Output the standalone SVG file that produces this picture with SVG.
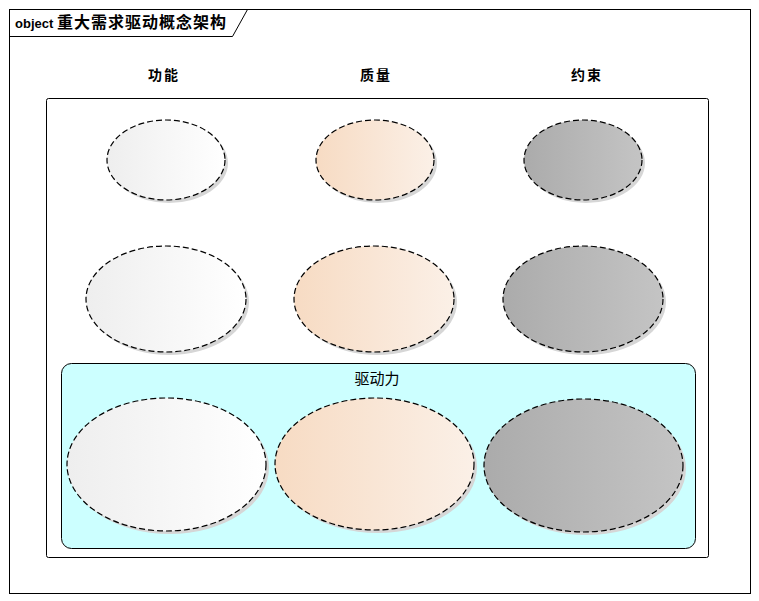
<svg xmlns="http://www.w3.org/2000/svg" width="759" height="601" viewBox="0 0 759 601">
<defs>
<linearGradient id="gW" x1="0" y1="0" x2="1" y2="0"><stop offset="0" stop-color="#EEEEEE"/><stop offset="1" stop-color="#FFFFFF"/></linearGradient>
<linearGradient id="gP" x1="0" y1="0" x2="1" y2="0"><stop offset="0" stop-color="#F7DBC3"/><stop offset="1" stop-color="#FBF0E7"/></linearGradient>
<linearGradient id="gG" x1="0" y1="0" x2="1" y2="0"><stop offset="0" stop-color="#ABABAB"/><stop offset="1" stop-color="#C4C4C4"/></linearGradient>
</defs>
<style>
.t{font-family:"Liberation Sans","Noto Sans CJK SC",sans-serif;fill:#000}
.b{font-weight:bold;font-size:14px;letter-spacing:2px}
.sh{fill:#D6D6D6}
.e{stroke:#000;stroke-width:1.2;stroke-dasharray:6,3}
.w{fill:url(#gW)}
.p{fill:url(#gP)}
.g{fill:url(#gG)}
</style>
<rect x="0" y="0" width="759" height="601" fill="#FFFFFF"/>
<g id="frame">
<rect x="9.5" y="9.5" width="741" height="584" fill="#FFFFFF" stroke="#000" stroke-width="1"/>
<path d="M9.5 36.5 H232.5 L247.5 9.5" fill="none" stroke="#000" stroke-width="1"/>
<text class="t" x="15" y="28" font-size="13"><tspan font-weight="bold">object</tspan> <tspan font-weight="bold" font-size="16" letter-spacing="1">重大需求驱动概念架构</tspan></text>
</g>
<g id="labels">
<text class="t b" x="164" y="80" text-anchor="middle">功能</text>
<text class="t b" x="376" y="80" text-anchor="middle">质量</text>
<text class="t b" x="587" y="80" text-anchor="middle">约束</text>
</g>
<g id="container">
<rect x="46.5" y="98.5" width="662" height="459" rx="2" fill="#FFFFFF" stroke="#000" stroke-width="1"/>
</g>
<g id="row1-func">
<ellipse class="sh" cx="169" cy="163" rx="59" ry="40"/>
<ellipse class="e w" cx="166" cy="160" rx="59" ry="40"/>
</g>
<g id="row1-qual">
<ellipse class="sh" cx="378" cy="163" rx="59" ry="40"/>
<ellipse class="e p" cx="375" cy="160" rx="59" ry="40"/>
</g>
<g id="row1-cons">
<ellipse class="sh" cx="586" cy="163" rx="59" ry="40"/>
<ellipse class="e g" cx="583" cy="160" rx="59" ry="40"/>
</g>
<g id="row2-func">
<ellipse class="sh" cx="169" cy="302" rx="80" ry="53"/>
<ellipse class="e w" cx="166" cy="299" rx="80" ry="53"/>
</g>
<g id="row2-qual">
<ellipse class="sh" cx="377" cy="302" rx="80" ry="53"/>
<ellipse class="e p" cx="374" cy="299" rx="80" ry="53"/>
</g>
<g id="row2-cons">
<ellipse class="sh" cx="586" cy="302" rx="80" ry="53"/>
<ellipse class="e g" cx="583" cy="299" rx="80" ry="53"/>
</g>
<g id="driver">
<rect x="61.5" y="363.5" width="634" height="185" rx="10" fill="#CCFFFF" stroke="#000" stroke-width="1"/>
<text class="t" x="377" y="384" font-size="15" text-anchor="middle">驱动力</text>
</g>
<g id="row3-func">
<ellipse class="sh" cx="169.5" cy="467.5" rx="99.5" ry="66.5"/>
<ellipse class="e w" cx="166.5" cy="464.5" rx="99.5" ry="66.5"/>
</g>
<g id="row3-qual">
<ellipse class="sh" cx="377.5" cy="467" rx="99.5" ry="66"/>
<ellipse class="e p" cx="374.5" cy="464" rx="99.5" ry="66"/>
</g>
<g id="row3-cons">
<ellipse class="sh" cx="586.5" cy="468.5" rx="99.5" ry="66.5"/>
<ellipse class="e g" cx="583.5" cy="465.5" rx="99.5" ry="66.5"/>
</g>
<g id="connectors"/>
</svg>
